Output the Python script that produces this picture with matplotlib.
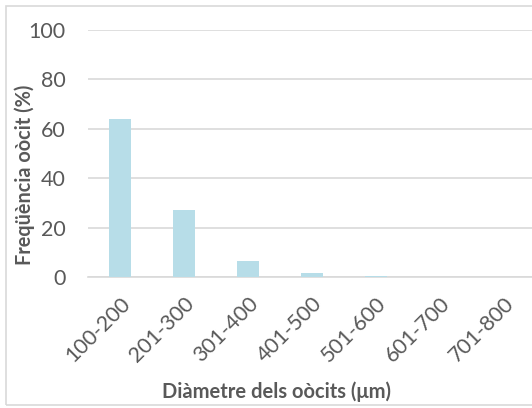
import numpy as np
import matplotlib.pyplot as plt
from matplotlib.patches import Rectangle

# data
categories = ['100-200', '201-300', '301-400', '401-500', '501-600', '601-700', '701-800']
freq = [63.8, 27.0, 6.5, 1.5, 0.4, 0.0, 0.0]

plt.rcParams['font.family'] = ['Lato', 'DejaVu Sans']
grey = '#595959'

fig = plt.figure(figsize=(5.32, 4.08), dpi=100)
# outer chart border (right side runs off the picture)
fig.patches.append(Rectangle((6/532, 3/408), 1.2, 399/408, transform=fig.transFigure,
                             fill=False, edgecolor='#d9d9d9', lw=1.2))

ax = fig.add_axes([88/532, 131/408, 448/532, 247/408])
x = np.arange(len(categories))
ax.bar(x, freq, width=0.33, color='#b7dde8', zorder=3)

ax.set_xlim(-0.5, len(categories) - 0.5)
ax.set_ylim(0, 100)
ax.set_yticks(range(0, 101, 20))
ax.yaxis.grid(True, color='#d9d9d9', lw=1.2, zorder=0)
for s in ['top', 'right', 'left']:
    ax.spines[s].set_visible(False)
ax.spines['bottom'].set_color('#d9d9d9')
ax.spines['bottom'].set_linewidth(1.2)
ax.tick_params(length=0, colors=grey, labelsize=15.5)
ax.tick_params(axis='y', pad=16)
ax.set_xticks(x)
ax.set_xticklabels(categories, rotation=45, ha='right', rotation_mode='anchor')
ax.tick_params(axis='x', pad=12)

ax.set_ylabel('Freqüència oòcit (%)', fontsize=14.3, fontweight='bold', color=grey, va='center')
ax.yaxis.set_label_coords(-0.141, 0.413)
ax.set_xlabel('Diàmetre dels oòcits (μm)', fontsize=14.5, fontweight='bold', color=grey, va='center')
ax.xaxis.set_label_coords(0.42, -0.466)

fig.savefig('out.png', dpi=100)
